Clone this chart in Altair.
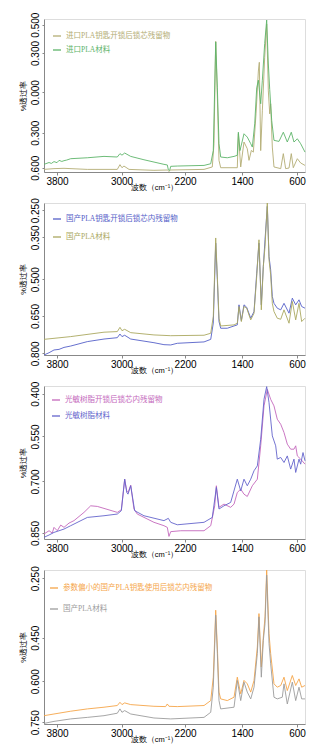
import altair as alt
import pandas as pd

FONT = "Liberation Serif, Noto Sans CJK SC"

# ---- shared axis data ----
X_DOMAIN = [3960, 3800, 3000, 2200, 1400, 600, 480]
X_RANGE = [0, 13, 77.5, 141, 198, 253, 261]
X_TICKS = [3800, 3000, 2200, 1400, 600]
X_TITLE = "波数（cm⁻¹）"
Y_TITLE = "%透过率"

# ---- panel 1 ----
p1_names = ["进口PLA钥匙开锁后锁芯残留物", "进口PLA材料"]
p1_colors = ["#b3ad74", "#5db46a"]
p1_res_wn = [3960, 3837, 3713, 3424, 3052, 3019, 2994, 2969, 2905, 2591, 2423, 2402, 2380, 1933, 1817, 1793, 1769, 1746, 1723, 1699, 1466, 1451, 1418, 1371, 1323, 1298, 1264, 1235, 1196, 1162, 1148, 1128, 1104, 1070, 1041, 1017, 997, 983, 959, 935, 837, 799, 765, 716, 683, 654, 595, 545, 480]
p1_res_v = [1.7, 2.2, 2.4, 1.7, 1.7, 4.8, 2.8, 3.9, 1.7, 1.1, 1.3, 0.4, 1.3, 1.7, 3.3, 18.5, 85.4, 49, 7.6, 2.8, 2.8, 25, 3.3, 19.6, 15.2, 7.6, 14.1, 13, 38, 66, 71.7, 14, 40, 75, 96.7, 53, 38, 44.6, 16.3, 3.3, 2.2, 12, 2.2, 2.6, 12, 2.8, 8.7, 5.9, 4.3]
p1_mat_wn = [3960, 3898, 3870, 3837, 3800, 3775, 3740, 3713, 3680, 3630, 3424, 3217, 3052, 3019, 2994, 2960, 2884, 2717, 2465, 2423, 2410, 2393, 2380, 2297, 1933, 1839, 1803, 1769, 1746, 1723, 1699, 1606, 1512, 1466, 1451, 1428, 1371, 1323, 1273, 1250, 1215, 1186, 1162, 1128, 1104, 1070, 1041, 1017, 997, 968, 935, 862, 799, 741, 683, 644, 595, 545, 480]
p1_mat_v = [5, 6.2, 5.6, 6.8, 6.1, 7.6, 6.9, 7.4, 7.8, 8.7, 9.3, 10.2, 9.8, 12.0, 11, 12.4, 10.2, 8, 5, 4.6, 1.5, 1, 3.7, 3.9, 4.3, 5.4, 14, 85, 55, 18.5, 9.8, 9.3, 10.2, 10.9, 26, 14, 25, 22.8, 18.5, 16.3, 31.5, 55, 60, 44.6, 60, 84, 99.3, 70.6, 54, 33.7, 20.7, 20, 26, 19.6, 26, 19.6, 21.7, 18.5, 13]
p1_ticks = [96.3, 77.8, 52.2, 25.7, 2.8]
p1_labels = ["0.500", "0.300", "0.000", "0.300", "0.600"]

# ---- panel 2 ----
p2_names = ["国产PLA钥匙开锁后锁芯内残留物", "国产PLA材料"]
p2_colors = ["#5560c8", "#aaa860"]
p2_res_wn = [3960, 3898, 3837, 3775, 3713, 3630, 3424, 3217, 3052, 3019, 2994, 2960, 2884, 2591, 2465, 2380, 2297, 1933, 1839, 1803, 1769, 1746, 1723, 1699, 1606, 1512, 1466, 1442, 1409, 1371, 1332, 1273, 1225, 1186, 1153, 1119, 1090, 1065, 1032, 1007, 983, 959, 935, 887, 837, 789, 716, 668, 619, 570, 530, 480]
p2_res_v = [0, 1.5, 3.3, 3.7, 5, 5.9, 8.8, 10.5, 11.4, 13.8, 12.1, 13, 10.5, 8.1, 6.8, 6.6, 7.7, 8.6, 10.3, 21, 73.6, 49.5, 22, 17.6, 17.6, 19.1, 19.8, 33, 22.6, 33, 31.4, 24.2, 28.6, 53.8, 73.6, 33, 58.2, 75.8, 97.8, 64.8, 56, 38.5, 34, 30.8, 29.7, 34, 27.5, 37.4, 33, 36.3, 31.9, 30.8]
p2_mat_wn = [3960, 3630, 3217, 3052, 3019, 2994, 2960, 2884, 2591, 2380, 1933, 1839, 1803, 1769, 1746, 1723, 1699, 1512, 1466, 1442, 1409, 1371, 1332, 1273, 1225, 1186, 1153, 1119, 1090, 1065, 1032, 1007, 983, 959, 935, 887, 837, 789, 716, 668, 619, 570, 530, 480]
p2_mat_v = [10.3, 12.1, 15, 15.4, 18.2, 16, 16.9, 14.7, 13.2, 12.7, 13, 14.3, 25.3, 77, 51.6, 24.2, 19.1, 19.8, 20.9, 31.9, 22, 31.9, 30.8, 23.1, 27.5, 51.6, 75.8, 29.7, 58.2, 71.4, 100, 62.6, 52.7, 34, 28.6, 24.2, 23.5, 29.7, 20.9, 35.2, 23.1, 34, 22, 24.2]
p2_ticks = [95.2, 77.4, 49.9, 25.7, 1.1]
p2_labels = ["0.250", "0.350", "0.500", "0.650", "0.800"]

# ---- panel 3 ----
p3_names = ["光敏树脂开锁后锁芯内残留物", "光敏树脂材料"]
p3_colors = ["#c468bc", "#6464cc"]
p3_res_wn = [3960, 3898, 3858, 3837, 3796, 3754, 3713, 3651, 3589, 3465, 3382, 3300, 3217, 3052, 3002, 2960, 2934, 2918, 2884, 2843, 2801, 2591, 2465, 2423, 2402, 2380, 2254, 1933, 1839, 1783, 1760, 1723, 1653, 1559, 1512, 1466, 1418, 1371, 1323, 1250, 1177, 1128, 1080, 1032, 983, 935, 887, 837, 789, 741, 692, 644, 619, 595, 545, 480]
p3_res_v = [3.3, 5.4, 3.9, 7.6, 5.4, 9.1, 7.6, 10.4, 12, 17.4, 21.7, 21.3, 20, 17.4, 19.1, 39.1, 31.5, 30.4, 35.2, 19.6, 16.3, 10.9, 8.7, 7.6, 1.7, 4.8, 5.4, 5.4, 8.7, 21.7, 34.8, 20.7, 22.8, 20.7, 22.8, 30.4, 32.6, 29.3, 27.8, 34.8, 39.1, 60.9, 87, 97.8, 91.3, 87, 78.3, 75, 69.6, 62, 58.7, 58.7, 60.9, 54.3, 52.2, 48.9]
p3_mat_wn = [3960, 3898, 3837, 3775, 3713, 3630, 3424, 3217, 3052, 3002, 2960, 2934, 2918, 2884, 2834, 2717, 2465, 2410, 2380, 2297, 1933, 1817, 1760, 1723, 1653, 1559, 1466, 1418, 1371, 1323, 1273, 1225, 1177, 1128, 1080, 1041, 1007, 959, 910, 887, 837, 789, 741, 692, 644, 619, 570, 545, 510, 480]
p3_mat_v = [1.1, 2.6, 4.3, 5.4, 6.5, 8.7, 14.1, 15.2, 16.3, 18.5, 39.1, 30.4, 29.3, 34.8, 18.5, 15.2, 12, 13.5, 10.9, 9.3, 10.9, 14.1, 33.7, 19.6, 21.7, 23.9, 39.1, 31.5, 39.1, 34.8, 39.1, 44.6, 47.8, 65.2, 91.3, 99.6, 89.1, 67.4, 60.9, 52.2, 53.3, 50, 54.3, 45.7, 52.2, 43.5, 52.2, 48.9, 56.5, 51.1]
p3_ticks = [95, 67, 37.6, 3.9]
p3_labels = ["0.400", "0.550", "0.700", "0.850"]

# ---- panel 4 ----
p4_names = ["参数偏小的国产PLA钥匙使用后锁芯内残留物", "国产PLA材料"]
p4_colors = ["#f5a548", "#9c9c9c"]
p4_res_wn = [3960, 3837, 3630, 3424, 3217, 3052, 3019, 2994, 2960, 2884, 2591, 2444, 2423, 2402, 2297, 1933, 1839, 1803, 1769, 1746, 1723, 1699, 1606, 1512, 1466, 1418, 1371, 1323, 1273, 1225, 1177, 1153, 1119, 1090, 1065, 1041, 1007, 983, 935, 887, 837, 789, 741, 668, 619, 570, 530, 480]
p4_res_v = [5.4, 6.5, 8.3, 9.8, 10.9, 12, 14.1, 12.6, 13.7, 12.6, 11.5, 11.3, 13, 11.5, 11.3, 12, 15.2, 30.4, 73.9, 50, 20.7, 16.3, 15.2, 17.4, 30.4, 19.6, 28.3, 26.1, 20.7, 28.3, 50, 71.7, 37, 56.5, 69.6, 100, 58.7, 45.7, 26.1, 23.9, 25, 30.4, 21.7, 31.5, 25, 29.3, 23.9, 25]
p4_mat_wn = [3960, 3837, 3630, 3424, 3217, 3052, 3019, 2994, 2960, 2884, 2591, 2380, 1933, 1839, 1803, 1769, 1746, 1723, 1699, 1512, 1466, 1418, 1371, 1323, 1273, 1225, 1177, 1153, 1119, 1090, 1065, 1041, 1007, 983, 935, 887, 814, 789, 741, 668, 619, 570, 530, 480]
p4_mat_v = [0.4, 1.7, 3.3, 4.3, 5.4, 7, 9.8, 7.6, 8.7, 6.5, 3.9, 3.3, 4.3, 7.6, 23.9, 70.7, 45.7, 15.2, 9.8, 10.9, 28.3, 15.2, 27.2, 20.7, 16.3, 23.9, 45.7, 69.6, 30.4, 54.3, 65.2, 96.7, 52.2, 39.1, 17.4, 16.3, 17.4, 26.1, 13, 27.2, 15.2, 23.9, 16.3, 16.3]
p4_ticks = [94.6, 56, 27.8, 1.1]
p4_labels = ["0.250", "0.450", "0.600", "0.750"]


def frame(names, res_wn, res_v, mat_wn, mat_v):
    a = pd.DataFrame({"wn": res_wn, "v": res_v, "series": names[0]})
    b = pd.DataFrame({"wn": mat_wn, "v": mat_v, "series": names[1]})
    return pd.concat([a, b], ignore_index=True)


def label_expr(ticks, labels):
    pairs = sorted(zip(ticks, labels))
    expr = "''"
    for t, l in reversed(pairs):
        expr = f"datum.value <= {t + 0.01} ? '{l}' : ({expr})"
    return expr


def panel(df, names, colors, ticks, labels, h, lx, ly, rowpad):
    color_expr = f"datum.value === '{names[0]}' ? '{colors[0]}' : '{colors[1]}'"
    return alt.Chart(df).mark_line(strokeWidth=0.9).encode(
        x=alt.X("wn:Q",
                scale=alt.Scale(domain=X_DOMAIN, range=X_RANGE, nice=False, zero=False),
                axis=alt.Axis(values=X_TICKS, format="d", title=X_TITLE,
                              titleX=110, titleY=15, titleAlign="center", titleBaseline="middle",
                              titleFontWeight="normal", titleFontSize=7.5,
                              labelFlush=False, labelOverlap=False, grid=False,
                              tickSize=3, labelPadding=1)),
        y=alt.Y("v:Q",
                scale=alt.Scale(domain=[0, 100], nice=False, zero=False),
                axis=alt.Axis(values=ticks, labelExpr=label_expr(ticks, labels),
                              title=Y_TITLE, labelAngle=270, labelAlign="center",
                              labelBaseline="bottom", labelOverlap=False, labelFlush=False,
                              grid=False, tickSize=2, labelPadding=2,
                              titleX=-21, titleBaseline="middle",
                              titleFontWeight="normal", titleFontSize=7.5)),
        color=alt.Color("series:N",
                        scale=alt.Scale(domain=names, range=colors),
                        sort=names,
                        legend=alt.Legend(title=None, orient="none", legendX=lx, legendY=ly,
                                          symbolType="stroke", symbolSize=64,
                                          symbolStrokeWidth=1.3, labelFontSize=7.5,
                                          labelFont=FONT, labelOffset=4, rowPadding=rowpad,
                                          padding=0, labelLimit=300,
                                          labelColor=alt.ExprRef(expr=color_expr))),
    ).properties(width=261, height=h)


c1 = panel(frame(p1_names, p1_res_wn, p1_res_v, p1_mat_wn, p1_mat_v), p1_names, p1_colors, p1_ticks, p1_labels, 153, 8, 12, 5)
c2 = panel(frame(p2_names, p2_res_wn, p2_res_v, p2_mat_wn, p2_mat_v), p2_names, p2_colors, p2_ticks, p2_labels, 152, 8, 11, 9)
c3 = panel(frame(p3_names, p3_res_wn, p3_res_v, p3_mat_wn, p3_mat_v), p3_names, p3_colors, p3_ticks, p3_labels, 153, 7, 9, 7)
c4 = panel(frame(p4_names, p4_res_wn, p4_res_v, p4_mat_wn, p4_mat_v), p4_names, p4_colors, p4_ticks, p4_labels, 154, 5, 13, 12)

chart = alt.vconcat(c1, c2, c3, c4, spacing=31, bounds="flush").resolve_scale(
    x="independent", y="independent", color="independent"
).resolve_legend(color="independent").properties(
    padding={"left": 18, "top": 11, "right": 5, "bottom": 5}
).configure_view(strokeWidth=0).configure_axis(
    labelFont=FONT, titleFont=FONT, labelFontSize=8, titleFontSize=7.5,
    titleFontWeight="normal", labelColor="#444", titleColor="#333",
    domainColor="#666", tickColor="#666", domainWidth=1
).configure(background="white")

chart.save("out.html", embed_options={"renderer": "svg", "actions": False})
